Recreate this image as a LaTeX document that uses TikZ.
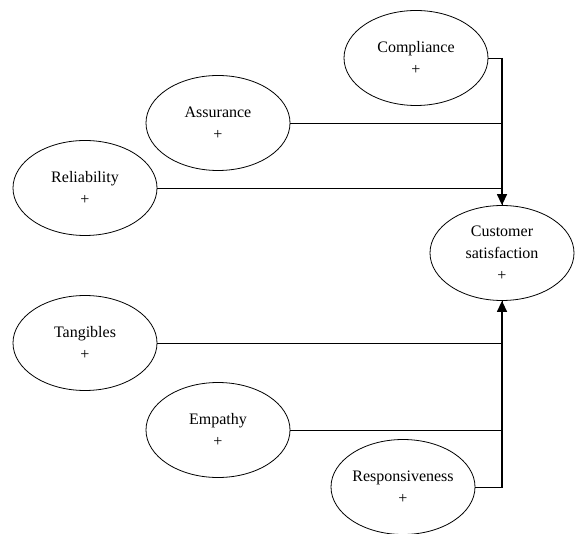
\documentclass[tikz,border=0pt]{standalone}
\usepackage{fontspec}
\setmainfont{Liberation Serif}
\usetikzlibrary{shapes.geometric,arrows.meta}

\tikzset{
  factor/.style={draw, ellipse, line width=0.8pt, minimum width=144pt, minimum height=95pt,
    inner sep=0pt, align=center, font=\fontsize{16}{22}\selectfont},
  link/.style={line width=0.9pt},
  linkarrow/.style={line width=1.4pt, -{Triangle[length=11pt,width=10pt]}}
}

\begin{document}
\begin{tikzpicture}[x=1pt, y=-1pt]
                \useasboundingbox (0,0) rectangle (575,534);
                \node[factor] (compliance) at (416,58) {Compliance\\+};
                \node[factor] (assurance) at (218,123) {Assurance\\+};
                \node[factor] (reliability) at (85,188) {Reliability\\+};
                \node[factor] (satisfaction) at (502,253) {Customer\\satisfaction\\+};
                \node[factor] (tangibles) at (85,343) {Tangibles\\+};
                \node[factor] (empathy) at (218,430) {Empathy\\+};
                \node[factor] (responsiveness) at (403,487) {Responsiveness\\+};
                \draw[link] (compliance.east) -| (satisfaction.north);
                \draw[linkarrow] (compliance.east -| satisfaction.north) -- (satisfaction.north);
                \draw[link] (assurance.east) -- (assurance.east -| satisfaction.north);
                \draw[link] (reliability.east) -- (reliability.east -| satisfaction.north);
                \draw[link] (responsiveness.east) -| (satisfaction.south);
                \draw[linkarrow] (responsiveness.east -| satisfaction.south) -- (satisfaction.south);
                \draw[link] (tangibles.east) -- (tangibles.east -| satisfaction.south);
                \draw[link] (empathy.east) -- (empathy.east -| satisfaction.south);
            \end{tikzpicture}
\end{document}
